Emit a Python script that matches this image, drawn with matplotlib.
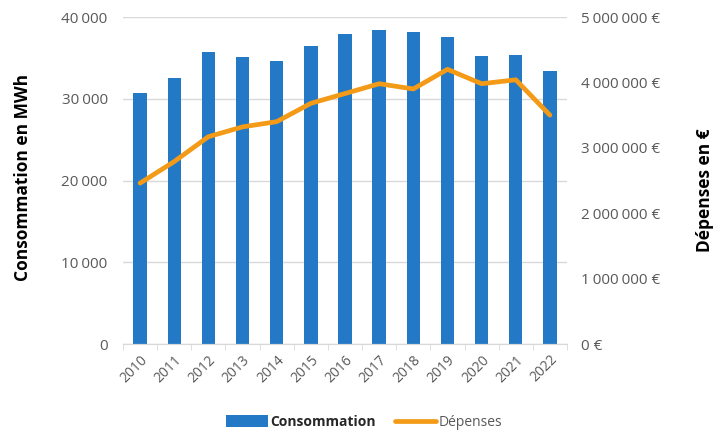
import numpy as np
import matplotlib
matplotlib.use("Agg")
import matplotlib.pyplot as plt
from matplotlib.ticker import FuncFormatter, FixedLocator

# donnees
annees = ["2010", "2011", "2012", "2013", "2014", "2015", "2016",
          "2017", "2018", "2019", "2020", "2021", "2022"]
consommation = [30750, 32500, 35700, 35100, 34600, 36400, 37950,
                38400, 38150, 37500, 35250, 35350, 33450]
depenses = [2460000, 2790000, 3170000, 3320000, 3400000, 3680000, 3830000,
            3980000, 3900000, 4200000, 3980000, 4040000, 3500000]

bleu = "#2479C6"
orange = "#F39A17"
gris = "#595959"

plt.rcParams['font.family'] = ['Open Sans', 'DejaVu Sans']

fig = plt.figure(figsize=(7.21, 4.32), dpi=100)
ax = fig.add_axes([0.1706, 0.2037, 0.6158, 0.7569])
ax2 = ax.twinx()

x = np.arange(len(annees))
ax.bar(x, consommation, width=0.39, color=bleu, label="Consommation", zorder=2)
ax2.plot(x, depenses, color=orange, lw=3.4, solid_capstyle='round',
         label="Dépenses", zorder=3)


def milliers(v):
    return f"{int(v):,}".replace(",", "\u202f") if v else "0"


# axe gauche
ax.set_ylim(0, 40000)
ax.set_yticks([0, 10000, 20000, 30000, 40000])
ax.yaxis.set_major_formatter(FuncFormatter(lambda v, p: milliers(v)))
ax.set_ylabel("Consommation en MWh", fontsize=12.5, fontweight='bold',
              color='black')
ax.yaxis.set_label_coords(-0.205, 0.51)

# axe droit
ax2.set_ylim(0, 5000000)
ax2.set_yticks(np.arange(0, 5000001, 1000000))
ax2.yaxis.set_major_formatter(FuncFormatter(lambda v, p: milliers(v) + " €"))
ax2.set_ylabel("Dépenses en €", fontsize=12.5, fontweight='bold',
               color='black')
ax2.yaxis.set_label_coords(1.29, 0.47)

ax.set_xlim(-0.5, len(annees) - 0.5)
ax.set_xticks(x)
ax.set_xticklabels(annees, rotation=45, ha='right', rotation_mode='anchor')
ax.xaxis.set_minor_locator(FixedLocator(np.arange(-0.5, len(annees), 1)))
ax.tick_params(axis='x', which='major', length=0, pad=6, labelsize=10,
               labelcolor=gris)
ax.tick_params(axis='x', which='minor', length=4, color='#D9D9D9')
ax.tick_params(axis='y', length=0, labelsize=11, labelcolor=gris, pad=11)
ax2.tick_params(axis='y', length=0, labelsize=11, labelcolor=gris, pad=10)

ax.grid(axis='y', color='#D9D9D9', lw=1, zorder=0)
for a in (ax, ax2):
    for s in ['top', 'left', 'right']:
        a.spines[s].set_visible(False)
    a.spines['bottom'].set_color('#D9D9D9')

h1, l1 = ax.get_legend_handles_labels()
h2, l2 = ax2.get_legend_handles_labels()
leg = fig.legend(h1 + h2, l1 + l2, loc='center', bbox_to_anchor=(0.505, 0.022),
                 ncol=2, frameon=False, fontsize=10, handlelength=3.0,
                 handleheight=1.0, columnspacing=1.4, handletextpad=0.15,
                 borderaxespad=0)
textes = leg.get_texts()
textes[0].set_fontweight('bold')
textes[0].set_color('#262626')
textes[1].set_color(gris)

fig.savefig("out.png", dpi=100)
